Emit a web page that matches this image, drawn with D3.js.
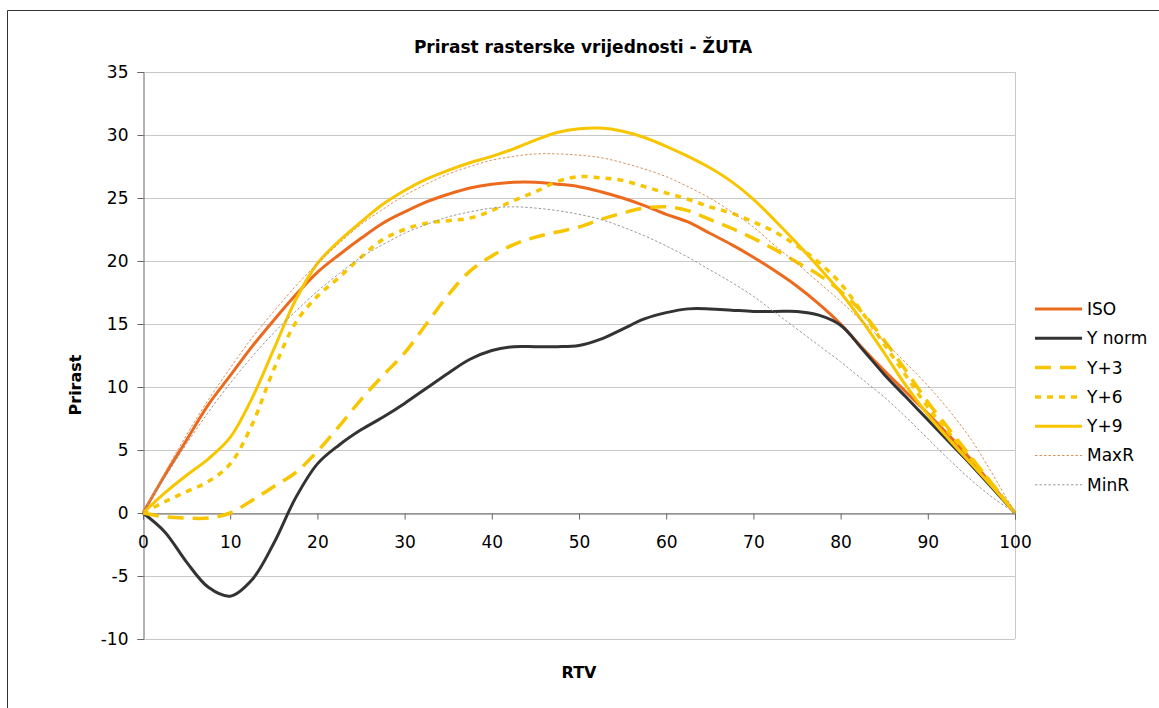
<!DOCTYPE html>
<html>
<head>
<meta charset="utf-8">
<script src="https://cdn.jsdelivr.net/npm/d3@7"></script>
<style>
  html, body { margin: 0; padding: 0; background: #fff; }
  svg { display: block; }
  text { font-family: "DejaVu Sans", Verdana, sans-serif; fill: #000; }
</style>
</head>
<body>
<svg id="chart" width="1159" height="708"></svg>
<script>
// ---- data ----
const rtv   = [0,2.5,5,7.5,10,12.5,15,17.5,20,22.5,25,27.5,30,32.5,35,37.5,40,42.5,45,47.5,50,52.5,55,57.5,60,62.5,65,67.5,70,72.5,75,77.5,80,82.5,85,87.5,90,92.5,95,97.5,100];
const iso   = [0,3,5.8,8.6,10.9,13.2,15.3,17.3,19.1,20.5,21.8,23,23.9,24.7,25.3,25.8,26.1,26.25,26.25,26.1,25.9,25.5,25,24.4,23.7,23.1,22.2,21.3,20.3,19.2,18,16.6,15,13.1,11.3,9.6,7.9,6.1,4.2,2.1,0];
const yNorm = [0,-1.5,-3.9,-5.9,-6.6,-5.3,-2.4,1.2,3.9,5.4,6.6,7.6,8.7,9.9,11.1,12.2,12.9,13.2,13.2,13.2,13.3,13.8,14.6,15.4,15.9,16.2,16.2,16.1,16,16,16,15.7,14.9,13,11,9.2,7.4,5.6,3.8,1.9,0];
const y3    = [0,-0.3,-0.4,-0.4,0,1,2.1,3.2,4.9,6.9,9,10.9,12.7,15,17.3,19.2,20.4,21.3,21.9,22.3,22.7,23.3,23.8,24.2,24.3,24,23.3,22.6,21.8,20.9,19.9,18.9,17.6,15.9,13.7,11.3,8.8,6.6,4.4,2.2,0];
const y6    = [0,0.9,1.7,2.5,3.9,7,11.4,15.1,17.2,18.7,20.3,21.7,22.5,23,23.2,23.4,24,24.8,25.5,26.3,26.7,26.6,26.4,25.9,25.4,24.9,24.3,23.8,23.1,22.3,21.2,19.9,18.2,15.9,13.4,10.9,8.4,6.3,4.3,2.2,0];
const y9    = [0,1.6,3,4.3,6,9.1,13,16.9,19.8,21.6,23.1,24.5,25.6,26.5,27.2,27.8,28.3,28.9,29.6,30.2,30.5,30.55,30.3,29.8,29.1,28.3,27.4,26.3,24.9,23.2,21.4,19.5,17.5,15.2,12.7,10.1,7.8,5.8,3.9,2,0];
const maxR  = [0,3.2,6.2,9,11.5,13.9,16,18,19.8,21.4,22.9,24.1,25.2,26.1,26.9,27.5,28,28.3,28.5,28.5,28.4,28.2,27.8,27.3,26.7,25.9,25,23.9,22.7,21.2,19.8,18.3,16.8,15.2,13.6,11.9,10.1,8.1,5.8,3,0];
const minR  = [0,2.8,5.5,8,10.3,12.4,14.3,16,17.6,19,20.3,21.3,22.2,22.9,23.5,23.9,24.2,24.3,24.2,24,23.7,23.3,22.7,22,21.2,20.3,19.3,18.3,17.2,15.9,14.6,13.3,12,10.6,9.2,7.6,5.9,4.2,2.6,1.2,0];
const seriesNames = ["ISO","Y norm","Y+3","Y+6","Y+9","MaxR","MinR"];
const xTicks = [0,10,20,30,40,50,60,70,80,90,100];
const yTicks = [-10,-5,0,5,10,15,20,25,30,35];

// ---- styles ----
const styles = {
  "ISO":    {color:"#EC6A1E", width:3,   dash:null},
  "Y norm": {color:"#333333", width:3,   dash:null},
  "Y+3":    {color:"#F7C600", width:3.5, dash:"16,9"},
  "Y+6":    {color:"#F7C600", width:3.5, dash:"6,6"},
  "Y+9":    {color:"#F7C600", width:3,   dash:null},
  "MaxR":   {color:"#D8925A", width:1,   dash:"2.5,2"},
  "MinR":   {color:"#999999", width:1,   dash:"2.5,2"}
};
const values = [iso, yNorm, y3, y6, y9, maxR, minR];
const fmt = d => String(d);

const svg = d3.select("#chart");
const plot = {left:143, right:1015, top:72, bottom:639};

const x = d3.scaleLinear().domain([0,100]).range([plot.left, plot.right]);
const y = d3.scaleLinear().domain([-10,35]).range([plot.bottom, plot.top]);

// outer chart border
svg.append("path").attr("d", `M7.5,708 L7.5,10.5 L1159,10.5`).attr("fill","none").attr("stroke","#333").attr("stroke-width",1);

// gridlines
svg.append("g").selectAll("line").data(yTicks).join("line")
  .attr("x1", plot.left).attr("x2", plot.right)
  .attr("y1", d => Math.round(y(d)) + 0.5).attr("y2", d => Math.round(y(d)) + 0.5)
  .attr("stroke", "#c8c8c8").attr("stroke-width", 1);
// plot right border
svg.append("line").attr("x1", plot.right + 0.5).attr("x2", plot.right + 0.5)
  .attr("y1", plot.top).attr("y2", plot.bottom).attr("stroke","#c8c8c8");

// y axis
const yAxis = svg.append("g").attr("transform", `translate(${plot.left + 0.5},0)`)
  .call(d3.axisLeft(y).tickValues(yTicks).tickSize(6).tickPadding(9).tickFormat(fmt));
yAxis.select(".domain").attr("stroke","#666");
yAxis.selectAll(".tick line").attr("stroke","#666");
yAxis.selectAll("text").style("font-size","17px").style("font-family","'DejaVu Sans', sans-serif").attr("fill","#000");

// x axis at y=0
const xAxis = svg.append("g").attr("transform", `translate(0,${Math.round(y(0)) + 0.5})`)
  .call(d3.axisBottom(x).tickValues(xTicks).tickSize(6).tickPadding(16).tickFormat(fmt));
xAxis.select(".domain").attr("stroke","#666");
xAxis.selectAll(".tick line").attr("stroke","#666");
xAxis.selectAll("text").style("font-size","17px").style("font-family","'DejaVu Sans', sans-serif").attr("fill","#000");

// lines
const line = d3.line()
  .x((d,i) => x(rtv[i]))
  .y(d => y(d))
  .curve(d3.curveCatmullRom.alpha(0.5));

const g = svg.append("g");
seriesNames.forEach((name, k) => {
  const s = styles[name];
  g.append("path")
    .attr("d", line(values[k]))
    .attr("fill", "none")
    .attr("stroke", s.color)
    .attr("stroke-width", s.width)
    .attr("stroke-dasharray", s.dash)
    .attr("stroke-linejoin", "round");
});

// title & axis titles
svg.append("text").attr("x", 583).attr("y", 53).attr("text-anchor","middle")
  .style("font-size","17px").style("font-weight","bold").text("Prirast rasterske vrijednosti - ŽUTA");
svg.append("text").attr("x", 579).attr("y", 678).attr("text-anchor","middle")
  .style("font-size","16px").style("font-weight","bold").text("RTV");
svg.append("text").attr("transform","translate(81,385) rotate(-90)").attr("text-anchor","middle")
  .style("font-size","16px").style("font-weight","bold").text("Prirast");

// legend
const legY0 = 309, legStep = 29.3;
const leg = svg.append("g");
seriesNames.forEach((name, k) => {
  const s = styles[name];
  const yy = legY0 + k * legStep;
  leg.append("line").attr("x1", 1035).attr("x2", 1082).attr("y1", yy).attr("y2", yy)
    .attr("stroke", s.color).attr("stroke-width", s.width).attr("stroke-dasharray", s.dash);
  leg.append("text").attr("x", 1087).attr("y", yy).attr("dy","0.35em")
    .style("font-size","17px").text(name);
});
</script>
</body>
</html>
